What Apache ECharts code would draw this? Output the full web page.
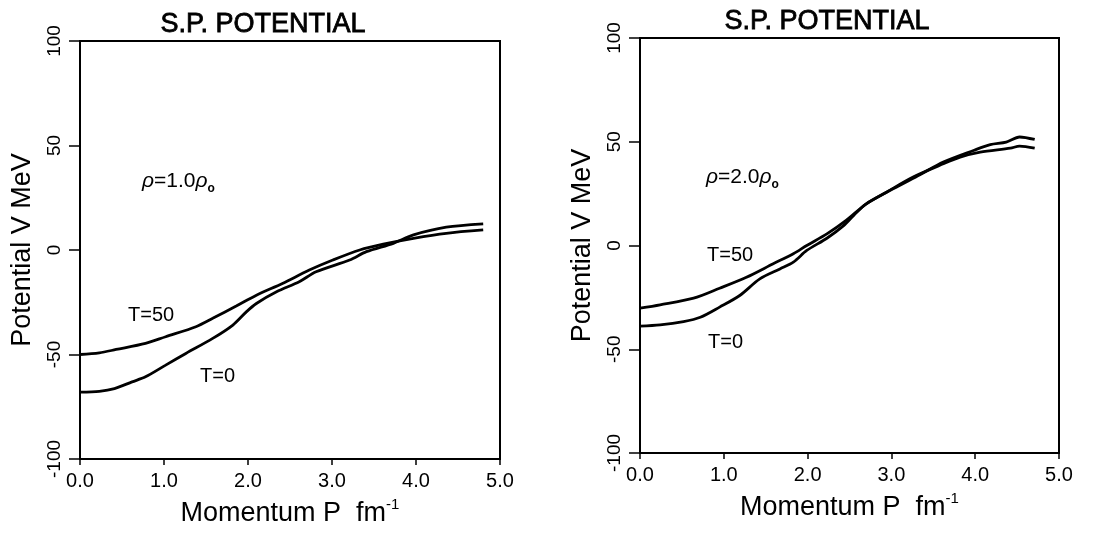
<!DOCTYPE html>
<html>
<head>
<meta charset="utf-8">
<title>S.P. POTENTIAL</title>
<script src="https://cdn.jsdelivr.net/npm/echarts@6/dist/echarts.min.js"></script>
<style>
  html, body { margin: 0; padding: 0; background: #fff; }
  #main { width: 1118px; height: 557px; }
</style>
</head>
<body>
<div id="main"></div>
<script>
// left panel, rho = 1.0 rho0
var leftT50P = [0, 0.23, 0.43, 0.78, 1.02, 1.38, 1.58, 1.86, 2.1, 2.41, 2.73, 3.01, 3.33, 3.61, 3.97, 4.36, 4.8];
var leftT50V = [-50, -49.2, -47.6, -44.7, -41.5, -36.7, -32.7, -26.8, -21.6, -16, -9.6, -4.8, 0, 2.8, 5.6, 8, 9.6];
var leftT0P = [0, 0.23, 0.41, 0.62, 0.78, 1.02, 1.26, 1.58, 1.82, 1.98, 2.1, 2.34, 2.61, 2.81, 3.21, 3.41, 3.73, 3.97, 4.36, 4.8];
var leftT0V = [-68, -67.6, -66.3, -63.1, -60.7, -55.1, -49.5, -42.3, -35.9, -29.6, -25.6, -20, -15.2, -10.4, -4.8, -0.8, 3.2, 7.2, 10.9, 12.5];

// right panel, rho = 2.0 rho0
var rightT50P = [0, 0.24, 0.64, 0.95, 1.27, 1.59, 1.83, 1.99, 2.23, 2.46, 2.7, 2.94, 3.26, 3.62, 3.82, 4.06, 4.42, 4.53, 4.71];
var rightT50V = [-30.2, -28.6, -25.4, -20.6, -15.3, -8.8, -4, 0, 5.6, 12.1, 20.1, 25.7, 33, 39.4, 42.6, 45, 46.9, 47.9, 46.9];
var rightT0P = [0, 0.24, 0.52, 0.72, 0.95, 1.19, 1.43, 1.67, 1.83, 1.99, 2.23, 2.43, 2.55, 2.7, 3.02, 3.34, 3.62, 3.98, 4.18, 4.37, 4.53, 4.71];
var rightT0V = [-38.9, -38.3, -36.7, -34.6, -29.7, -24.1, -16.1, -11.3, -8, -2.4, 3.5, 9.6, 14.5, 20.1, 27.3, 34.1, 40.2, 45.8, 48.6, 49.8, 52.3, 51.1];

var xRange = [0, 5, 1];       // min, max, step
var yRange = [-100, 100, 50];

var panelTitle = 'S.P. POTENTIAL';
var densityLabels = ['1.0', '2.0'];
var tempLabels = ['T=50', 'T=0'];

var font = "'Liberation Sans', Arial, Helvetica, sans-serif";

function pairs(xs, ys) {
    var out = [];
    for (var i = 0; i < xs.length; i++) out.push([xs[i], ys[i]]);
    return out;
}

function xAxisFor(idx) {
    return {
        type: 'value', gridIndex: idx,
        min: xRange[0], max: xRange[1], interval: xRange[2],
        name: 'Momentum P  fm{sup|-1}',
        nameLocation: 'middle', nameGap: 38,
        nameTextStyle: {
            fontFamily: font, fontSize: 27, color: '#000',
            rich: { sup: { fontFamily: font, fontSize: 15, color: '#000', verticalAlign: 'top', lineHeight: 34 } }
        },
        axisLine: { onZero: false, lineStyle: { color: '#000', width: 2 } },
        axisTick: { length: 6, lineStyle: { color: '#000', width: 1.5 } },
        axisLabel: {
            margin: 12, fontFamily: font, fontSize: 20, color: '#000',
            formatter: function (v) { return v.toFixed(1); }
        },
        splitLine: { show: false }
    };
}

function yAxisFor(idx) {
    return {
        type: 'value', gridIndex: idx,
        min: yRange[0], max: yRange[1], interval: yRange[2],
        name: 'Potential V MeV',
        nameLocation: 'middle', nameGap: 44, nameRotate: 90,
        nameTextStyle: { fontFamily: font, fontSize: 27, color: '#000' },
        axisLine: { onZero: false, lineStyle: { color: '#000', width: 2 } },
        axisTick: { length: 11, lineStyle: { color: '#000', width: 1.5 } },
        axisLabel: { rotate: 90, margin: 16, fontFamily: font, fontSize: 19, color: '#000' },
        splitLine: { show: false }
    };
}

function curve(idx, name, xs, ys) {
    return {
        type: 'line', name: name,
        xAxisIndex: idx, yAxisIndex: idx,
        data: pairs(xs, ys),
        smooth: 0.3, symbol: 'none',
        lineStyle: { color: '#000', width: 2.8 }
    };
}

function txt(x, y, text, size, align, rich, thick) {
    return {
        type: 'text', x: x, y: y, silent: true,
        style: {
            text: text, fontFamily: font, fontSize: size, fill: '#000',
            stroke: '#000', lineWidth: thick || 0,
            align: align || 'left', verticalAlign: 'middle', rich: rich || {}
        }
    };
}

var rhoRich = {
    i: { fontFamily: font, fontSize: 21, fontStyle: 'italic', color: '#000' },
    s: { fontFamily: font, fontSize: 12, fontWeight: 'bold', color: '#000', verticalAlign: 'bottom', lineHeight: 28 }
};

var dom = document.getElementById('main');
var myChart = echarts.init(dom);

var option = {
    backgroundColor: '#fff',
    animation: false,
    grid: [
        { left: 80, right: 618, top: 41, bottom: 98, show: true, borderColor: '#000', borderWidth: 2 },
        { left: 640, right: 59, top: 38, bottom: 104, show: true, borderColor: '#000', borderWidth: 2 }
    ],
    xAxis: [xAxisFor(0), xAxisFor(1)],
    yAxis: [yAxisFor(0), yAxisFor(1)],
    series: [
        curve(0, 'T=50', leftT50P, leftT50V),
        curve(0, 'T=0', leftT0P, leftT0V),
        curve(1, 'T=50', rightT50P, rightT50V),
        curve(1, 'T=0', rightT0P, rightT0V)
    ],
    graphic: [
        txt(263, 25, panelTitle, 27, 'center', null, 0.8),
        txt(827, 22, panelTitle, 27, 'center', null, 0.8),
        txt(142, 181, '{i|ρ}=' + densityLabels[0] + '{i|ρ}{s|o}', 21, 'left', rhoRich),
        txt(706, 177, '{i|ρ}=' + densityLabels[1] + '{i|ρ}{s|o}', 21, 'left', rhoRich),
        txt(128, 315, tempLabels[0], 20),
        txt(200, 376, tempLabels[1], 20),
        txt(707, 255, tempLabels[0], 20),
        txt(708, 342, tempLabels[1], 20)
    ]
};

if (option && typeof option === "object") {
    myChart.setOption(option, true);
}
</script>
</body>
</html>
